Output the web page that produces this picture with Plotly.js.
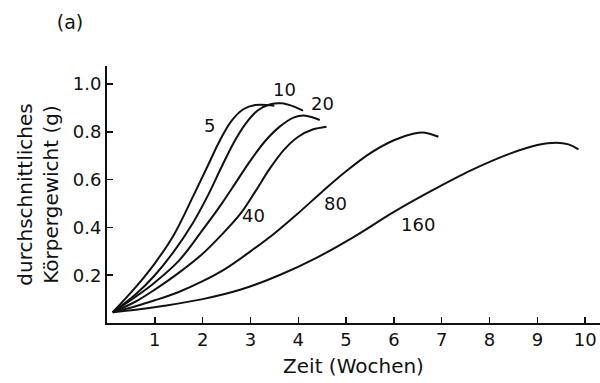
<!DOCTYPE html>
<html>
<head>
<meta charset="utf-8">
<script src="https://cdn.plot.ly/plotly-3.0.1.min.js"></script>
<style>html,body{margin:0;padding:0;background:#fff}#chart{width:600px;height:383px}</style>
</head>
<body>
<div id="chart"></div>
<script>
// Series: stocking-density labels and growth curves (time in weeks, mean body weight in g)
const seriesNames = ["5", "10", "20", "40", "80", "160"];

const x5   = [0.12, 0.6, 1.0, 1.4, 1.8, 2.1, 2.35, 2.6, 2.85, 3.1, 3.5];
const y5   = [0.045, 0.15, 0.25, 0.37, 0.53, 0.655, 0.76, 0.845, 0.895, 0.913, 0.91];

const x10  = [0.12, 0.6, 1.0, 1.4, 1.8, 2.1, 2.4, 2.65, 2.9, 3.15, 3.4, 3.65, 3.9, 4.1];
const y10  = [0.045, 0.12, 0.2, 0.3, 0.42, 0.53, 0.655, 0.755, 0.835, 0.89, 0.915, 0.92, 0.907, 0.889];

const x20  = [0.12, 0.6, 1.0, 1.5, 2.0, 2.4, 2.7, 3.0, 3.3, 3.6, 3.9, 4.15, 4.45];
const y20  = [0.045, 0.11, 0.17, 0.26, 0.39, 0.5, 0.59, 0.68, 0.76, 0.82, 0.86, 0.868, 0.85];

const x40  = [0.12, 0.6, 1.0, 1.5, 2.0, 2.4, 2.8, 3.1, 3.4, 3.7, 4.0, 4.3, 4.59];
const y40  = [0.045, 0.09, 0.14, 0.21, 0.29, 0.37, 0.46, 0.55, 0.645, 0.725, 0.78, 0.81, 0.822];

const x80  = [0.12, 0.6, 1.0, 1.5, 2.0, 2.5, 3.0, 3.5, 4.0, 4.5, 5.0, 5.5, 6.0, 6.4, 6.65, 6.93];
const y80  = [0.045, 0.07, 0.095, 0.13, 0.175, 0.23, 0.3, 0.375, 0.46, 0.55, 0.635, 0.71, 0.765, 0.792, 0.797, 0.78];

const x160 = [0.12, 0.6, 1.2, 2.0, 2.8, 3.6, 4.4, 5.2, 6.0, 6.8, 7.6, 8.4, 9.0, 9.4, 9.65, 9.86];
const y160 = [0.045, 0.055, 0.072, 0.1, 0.14, 0.2, 0.275, 0.365, 0.465, 0.555, 0.638, 0.707, 0.745, 0.755, 0.748, 0.727];

const xTicks = [1, 2, 3, 4, 5, 6, 7, 8, 9, 10];
const yTicks = [0.2, 0.4, 0.6, 0.8, 1.0];
const yTickText = ["0.2", "0.4", "0.6", "0.8", "1.0"];

const panelLabel = "(a)";
const xTitle = "Zeit (Wochen)";
const yTitle = "durchschnittliches<br>Körpergewicht (g)";

// curve-label anchor positions in data units (layout only)
const labelAnchors = {
  "5":   [2.15, 0.828],
  "10":  [3.72, 0.979],
  "20":  [4.51, 0.92],
  "40":  [3.06, 0.452],
  "80":  [4.77, 0.5],
  "160": [6.5, 0.414]
};

const FONT = "DejaVu Sans, Open Sans, sans-serif";
const xs = [x5, x10, x20, x40, x80, x160];
const ys = [y5, y10, y20, y40, y80, y160];

const traces = seriesNames.map((n, i) => ({
  type: "scatter", mode: "lines", name: n,
  x: xs[i], y: ys[i],
  line: {color: "#111", width: 2, shape: "spline", smoothing: 1},
  hoverinfo: "skip"
}));

const annotations = seriesNames.map(n => ({
  x: labelAnchors[n][0], y: labelAnchors[n][1], xref: "x", yref: "y",
  text: n, showarrow: false, xanchor: "center", yanchor: "middle",
  font: {family: FONT, size: 18, color: "#111"}
}));

const layout = {
  width: 600, height: 383,
  margin: {l: 107, r: 0, t: 66, b: 60, pad: 0},
  paper_bgcolor: "#fff", plot_bgcolor: "#fff",
  showlegend: false,
  title: {text: panelLabel, x: 70/600, xanchor: "center", y: 1 - 22/383, yanchor: "middle", xref: "container", yref: "container",
          font: {family: FONT, size: 19, color: "#111"}},
  xaxis: {
    range: [0, 10.31], showgrid: false, zeroline: false,
    showline: true, linecolor: "#111", linewidth: 1.5,
    tickmode: "array", tickvals: xTicks, ticktext: xTicks.map(String),
    ticks: "inside", ticklen: 6, tickwidth: 1.5, tickcolor: "#111",
    tickfont: {family: FONT, size: 18, color: "#111"},
    title: {text: xTitle, font: {family: FONT, size: 20, color: "#111"}, standoff: 10}
  },
  yaxis: {
    range: [0, 1.076], showgrid: false, zeroline: false,
    showline: true, linecolor: "#111", linewidth: 2,
    tickmode: "array", tickvals: yTicks, ticktext: yTickText,
    ticks: "inside", ticklen: 6, tickwidth: 1.5, tickcolor: "#111",
    tickfont: {family: FONT, size: 18, color: "#111"},
    title: {text: yTitle, font: {family: FONT, size: 20, color: "#111"}, standoff: 9}
  },
  annotations: annotations
};

Plotly.newPlot("chart", traces, layout, {staticPlot: true, displayModeBar: false});
</script>
</body>
</html>
